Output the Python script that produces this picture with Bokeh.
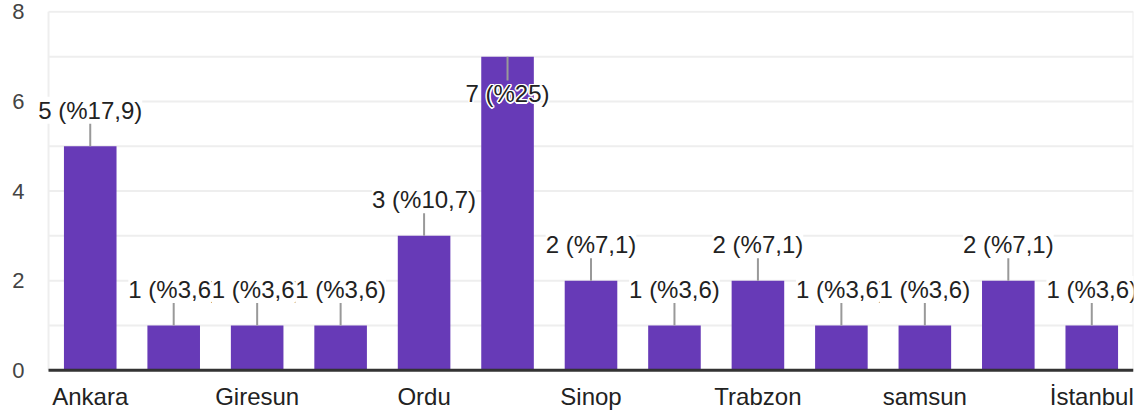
from bokeh.plotting import figure
from bokeh.models import Range1d, FixedTicker, Label
from bokeh.embed import file_html
from bokeh.resources import INLINE

# ---- data ----
tick_labels = ["Ankara", "", "Giresun", "", "Ordu", "", "Sinop", "", "Trabzon", "", "samsun", "", "İstanbul"]
counts = [5, 1, 1, 1, 3, 7, 2, 1, 2, 1, 1, 2, 1]
percent_labels = ["5 (%17,9)", "1 (%3,6)", "1 (%3,6)", "1 (%3,6)", "3 (%10,7)", "7 (%25)", "2 (%7,1)",
                  "1 (%3,6)", "2 (%7,1)", "1 (%3,6)", "1 (%3,6)", "2 (%7,1)", "1 (%3,6)"]
y_ticks = [0, 1, 2, 3, 4, 5, 6, 7, 8]
y_label_ticks = [0, 2, 4, 6, 8]
y_max = 8

FONT = "Liberation Sans"
FS = "24px"
BAR = "#673ab7"

n = len(counts)
xs = list(range(n))
x_lo, x_hi = -0.5, n - 0.5          # visible plot box
pad = 10 / 83.4                     # extra room on the left so the first label is not clipped

p = figure(width=1146, height=416, output_backend="svg", toolbar_location=None,
           x_range=Range1d(x_lo - pad, x_hi), y_range=Range1d(-0.05, y_max + 0.03),
           min_border_left=38, min_border_right=13, min_border_top=10, min_border_bottom=44)

p.background_fill_color = "white"
p.border_fill_color = "white"
p.outline_line_color = None
p.xgrid.visible = False
p.ygrid.visible = False

# grid lines and box
p.segment(x0=[x_lo] * len(y_ticks), y0=y_ticks, x1=[x_hi] * len(y_ticks), y1=y_ticks,
          line_color="#eeeeee", line_width=2)
p.segment(x0=[x_lo, x_hi], y0=[0, 0], x1=[x_lo, x_hi], y1=[y_max, y_max],
          line_color="#eeeeee", line_width=2)

# bars
p.vbar(x=xs, top=counts, width=0.63, bottom=0, fill_color=BAR, line_color=None)

# baseline (axis line)
p.segment(x0=[x_lo], y0=[0], x1=[x_hi], y1=[0], line_color="#333333", line_width=3)

# leader lines
lead = 24 * y_max / 359.0
max_i = counts.index(max(counts))
for i, (x, c) in enumerate(zip(xs, counts)):
    y1 = c - lead if i == max_i else c + lead
    p.segment(x0=[x], y0=[c], x1=[x], y1=[y1], line_color="#999999", line_width=2)

# value labels (each drawn in order; later labels cover earlier ones)
halo = [(-1.5, 0), (1.5, 0), (0, -1.5), (0, 1.5), (-1.1, -1.1), (1.1, 1.1), (-1.1, 1.1), (1.1, -1.1)]
for i, (x, c, t) in enumerate(zip(xs, counts, percent_labels)):
    if i == max_i:
        dy = -37
        for ox, oy in halo:
            p.add_layout(Label(x=x, y=c, text=t, x_offset=ox, y_offset=dy + oy,
                               text_align="center", text_baseline="alphabetic",
                               text_font=FONT, text_font_size=FS, text_color="white"))
        p.add_layout(Label(x=x, y=c, text=t, y_offset=dy,
                           text_align="center", text_baseline="alphabetic",
                           text_font=FONT, text_font_size=FS, text_color="#222222"))
    else:
        p.add_layout(Label(x=x, y=c, text=t, y_offset=36,
                           text_align="center", text_baseline="alphabetic",
                           text_font=FONT, text_font_size=FS, text_color="#222222",
                           background_fill_color="white"))

# axes
p.xaxis.ticker = FixedTicker(ticks=[i for i, t in enumerate(tick_labels) if t])
p.xaxis.major_label_overrides = {i: t for i, t in enumerate(tick_labels) if t}
p.xaxis.axis_line_color = None
p.xaxis.major_tick_line_color = None
p.xaxis.minor_tick_line_color = None
p.xaxis.major_tick_out = 0
p.xaxis.major_tick_in = 0
p.xaxis.major_label_standoff = 10
p.xaxis.major_label_text_font = FONT
p.xaxis.major_label_text_font_size = FS
p.xaxis.major_label_text_color = "#222222"

p.yaxis.ticker = FixedTicker(ticks=y_label_ticks)
p.yaxis.axis_line_color = None
p.yaxis.major_tick_line_color = None
p.yaxis.minor_tick_line_color = None
p.yaxis.major_tick_out = 0
p.yaxis.major_tick_in = 0
p.yaxis.major_label_standoff = 14
p.yaxis.major_label_text_font = FONT
p.yaxis.major_label_text_font_size = "22px"
p.yaxis.major_label_text_color = "#444444"

open("out.html", "w").write(file_html(p, INLINE))
